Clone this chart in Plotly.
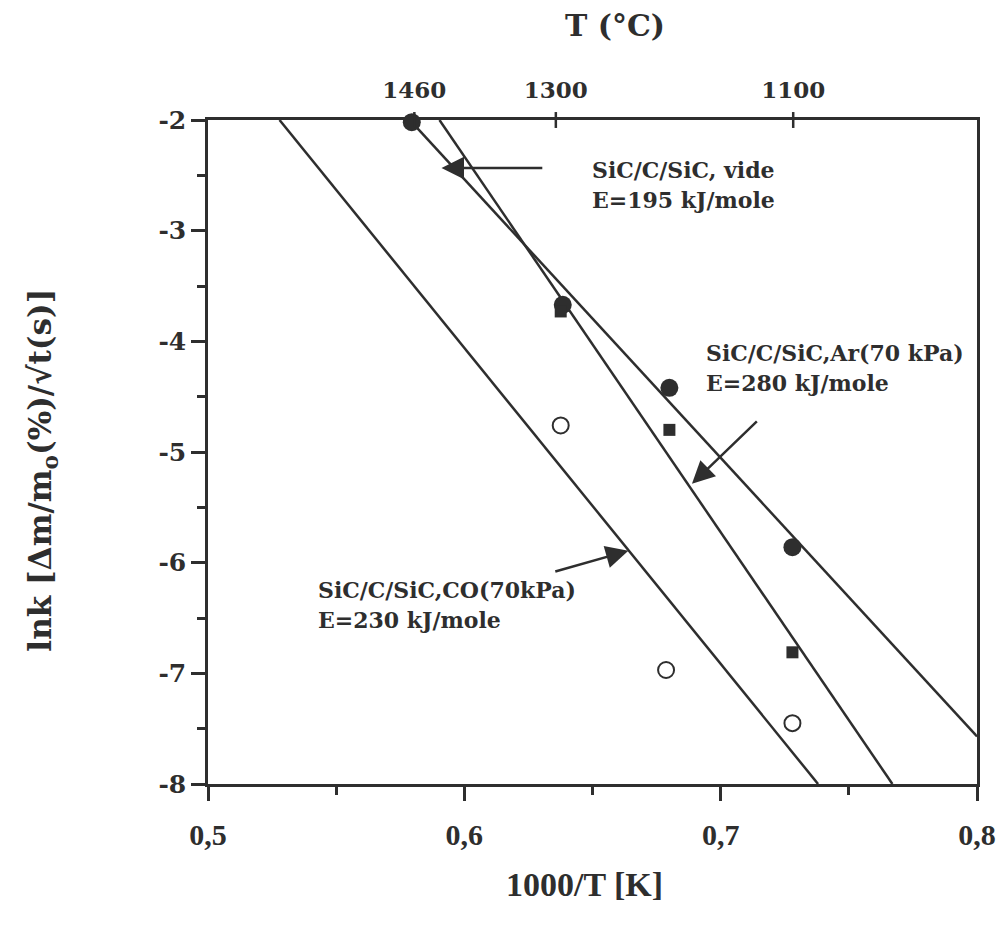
import plotly.graph_objects as go

# --- data (x = 1000/T in K^-1, y = ln k) ---
vide_x = [0.5795, 0.6384, 0.680, 0.728]
vide_y = [-2.02, -3.67, -4.42, -5.86]
ar_x = [0.6376, 0.680, 0.728]
ar_y = [-3.73, -4.80, -6.81]
co_x = [0.6376, 0.6787, 0.728]
co_y = [-4.76, -6.97, -7.45]

# fitted Arrhenius lines (end points)
vide_fit_x = [0.5795, 0.800]
vide_fit_y = [-2.02, -7.57]
ar_fit_x = [0.5903, 0.767]
ar_fit_y = [-2.0, -8.0]
co_fit_x = [0.5279, 0.738]
co_fit_y = [-2.0, -8.0]

x_ticks = [0.5, 0.6, 0.7, 0.8]
x_ticktext = ["0,5", "0,6", "0,7", "0,8"]
y_ticks = [-2, -3, -4, -5, -6, -7, -8]
y_ticktext = ["-2", "-3", "-4", "-5", "-6", "-7", "-8"]
top_ticks = [0.5805, 0.6357, 0.7283]
top_ticktext = ["1460", "1300", "1100"]

# labels: (tip x, tip y, tail x, tail y, text lines, text x, text y of first line)
labels = [
    (0.5911, -2.434, 0.6310, -2.434, ["SiC/C/SiC, vide", "E=195 kJ/mole"], 0.6492, -2.45),
    (0.6888, -5.288, 0.7147, -4.710, ["SiC/C/SiC,Ar(70 kPa)", "E=280 kJ/mole"], 0.6934, -4.105),
    (0.6640, -5.893, 0.6349, -6.083, ["SiC/C/SiC,CO(70kPa)", "E=230 kJ/mole"], 0.5422, -6.246),
]

INK = "#2e2e2e"
SERIF = "DejaVu Serif"

fig = go.Figure()

for fx, fy in [(vide_fit_x, vide_fit_y), (ar_fit_x, ar_fit_y), (co_fit_x, co_fit_y)]:
    fig.add_trace(go.Scatter(x=fx, y=fy, mode="lines",
                             line=dict(color=INK, width=2.5), showlegend=False))

fig.add_trace(go.Scatter(x=vide_x, y=vide_y, mode="markers", cliponaxis=False,
                         marker=dict(symbol="circle", size=18, color=INK),
                         showlegend=False))
fig.add_trace(go.Scatter(x=ar_x, y=ar_y, mode="markers", cliponaxis=False,
                         marker=dict(symbol="square", size=12, color=INK),
                         showlegend=False))
fig.add_trace(go.Scatter(x=co_x, y=co_y, mode="markers", cliponaxis=False,
                         marker=dict(symbol="circle-open", size=16, color=INK,
                                     line=dict(width=2, color=INK)),
                         showlegend=False))
# dummy trace to bring the top axis to life
fig.add_trace(go.Scatter(x=[0.5, 0.8], y=[-8, -8], xaxis="x2", mode="lines",
                         line=dict(width=0), hoverinfo="skip", showlegend=False))

for tx, ty, ax_, ay_, lines, lx, ly in labels:
    fig.add_annotation(x=tx, y=ty, ax=ax_, ay=ay_, axref="x", ayref="y",
                       xref="x", yref="y", text="", showarrow=True,
                       arrowhead=2, arrowsize=1.8, arrowwidth=2.5, arrowcolor=INK)
    for i, line in enumerate(lines):
        fig.add_annotation(x=lx, y=ly - i * 0.271, xref="x", yref="y", text=line,
                           showarrow=False, xanchor="left", yanchor="middle",
                           font=dict(family=SERIF, size=22, color=INK, weight="bold"))

# crossing ticks on the top axis
for tv in top_ticks:
    fig.add_shape(type="line", x0=tv, x1=tv, y0=0.988, y1=1.012,
                  xref="x", yref="paper", line=dict(color=INK, width=2.5))

# axis titles
fig.add_annotation(x=0.49, y=-0.152, xref="paper", yref="paper", showarrow=False,
                   text="1000/T [K]", xanchor="center", yanchor="middle",
                   font=dict(family="Liberation Serif", size=34, color=INK, weight="bold"))
fig.add_annotation(x=0.529, y=1.142, xref="paper", yref="paper", showarrow=False,
                   text="T (°C)", xanchor="center", yanchor="middle",
                   font=dict(family=SERIF, size=30, color=INK, weight="bold"))
fig.add_annotation(x=-0.2145, y=0.472, xref="paper", yref="paper", showarrow=False,
                   text="lnk [Δm/m<sub>o</sub>(%)/√t(s)]", textangle=-90,
                   xanchor="center", yanchor="middle",
                   font=dict(family=SERIF, size=31, color=INK, weight="bold"))

fig.update_layout(
    width=1000, height=923,
    margin=dict(l=200, r=26, t=112, b=147),
    paper_bgcolor="white", plot_bgcolor="white",
    xaxis=dict(range=[0.5, 0.8], tickvals=x_ticks, ticktext=x_ticktext,
               ticks="outside", ticklen=14, tickwidth=2.5, tickcolor=INK,
               minor=dict(tickvals=[0.55, 0.65, 0.75], ticks="outside",
                          ticklen=8, tickwidth=2.5, tickcolor=INK),
               showline=True, linewidth=2.5, linecolor=INK, showgrid=False,
               zeroline=False, ticklabelstandoff=8,
               tickfont=dict(family="Liberation Serif", size=30, color=INK, weight="bold")),
    xaxis2=dict(range=[0.5, 0.8], overlaying="x", side="top",
                tickvals=top_ticks, ticktext=top_ticktext, ticks="",
                showline=True, linewidth=2.5, linecolor=INK, showgrid=False,
                zeroline=False, ticklabelstandoff=10,
                tickfont=dict(family=SERIF, size=23, color=INK, weight="bold")),
    yaxis=dict(range=[-8, -2], tickvals=y_ticks, ticktext=y_ticktext,
               ticks="outside", ticklen=14, tickwidth=2.5, tickcolor=INK,
               minor=dict(tickvals=[-2.5, -3.5, -4.5, -5.5, -6.5, -7.5],
                          ticks="outside", ticklen=8, tickwidth=2.5, tickcolor=INK),
               showline=True, linewidth=2.5, linecolor=INK, mirror=True,
               showgrid=False, zeroline=False,
               tickfont=dict(family=SERIF, size=25, color=INK, weight="bold")),
)

fig.write_html("out.html")
